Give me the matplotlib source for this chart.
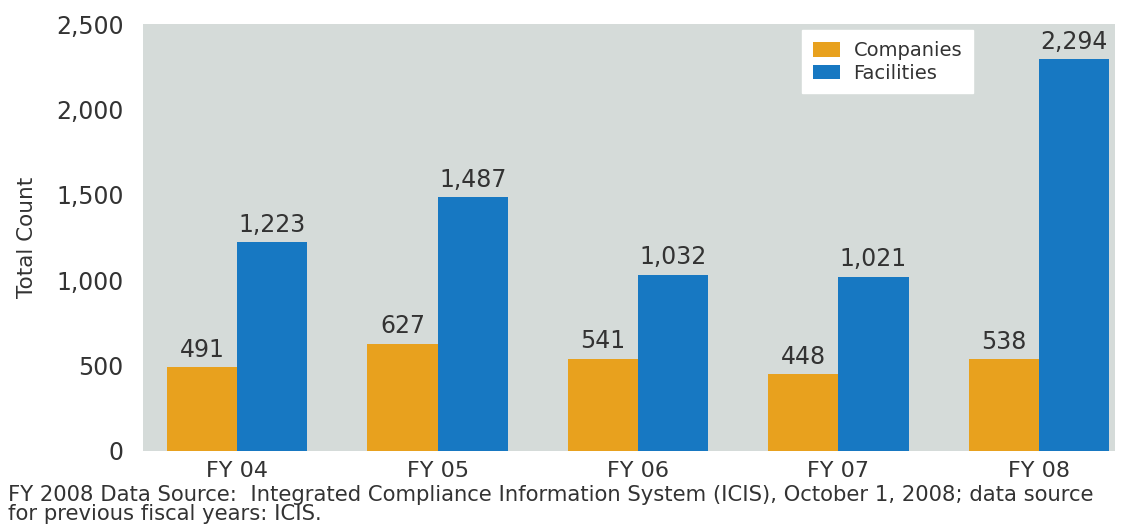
import numpy as np
import matplotlib
matplotlib.use('Agg')
import matplotlib.pyplot as plt

# data
years = ['FY 04', 'FY 05', 'FY 06', 'FY 07', 'FY 08']
companies = [491, 627, 541, 448, 538]
facilities = [1223, 1487, 1032, 1021, 2294]
yticks = [0, 500, 1000, 1500, 2000, 2500]
note = ('FY 2008 Data Source:  Integrated Compliance Information System (ICIS), '
        'October 1, 2008; data source\nfor previous fiscal years: ICIS.')

orange = '#E8A11E'
blue = '#1778C2'
bg = '#D5DBD9'
txt = '#333333'


def main():
    fig = plt.figure(figsize=(11.21, 5.25), dpi=100)
    ax = fig.add_axes([0.1276, 0.141, 0.867, 0.813])
    ax.set_facecolor(bg)

    x = np.arange(len(years))
    w = 0.35
    b1 = ax.bar(x - w / 2, companies, w, color=orange, label='Companies')
    b2 = ax.bar(x + w / 2, facilities, w, color=blue, label='Facilities')

    # value labels above each bar
    for bars in (b1, b2):
        for rect in bars:
            h = rect.get_height()
            ax.annotate(f'{int(h):,}', (rect.get_x() + rect.get_width() / 2, h),
                        xytext=(0, 4), textcoords='offset points',
                        ha='center', va='bottom', fontsize=17, color=txt)

    ax.set_xlim(-0.47, 4.38)
    ax.set_ylim(0, 2500)
    ax.set_yticks(yticks)
    ax.set_yticklabels([f'{v:,}' for v in yticks], fontsize=17, color=txt)
    ax.set_xticks(x)
    ax.set_xticklabels(years, fontsize=16, color=txt)
    ax.tick_params(axis='y', length=0, pad=14)
    ax.tick_params(axis='x', length=0, pad=7)
    for s in ax.spines.values():
        s.set_visible(False)

    ax.set_ylabel('Total Count', fontsize=15.5, color=txt, labelpad=14)

    leg = ax.legend(loc='upper left', bbox_to_anchor=(0.678, 0.986),
                    borderaxespad=0, fontsize=14, frameon=True, fancybox=False,
                    handlelength=1.4, handleheight=0.8, handletextpad=0.7,
                    borderpad=0.55, labelspacing=0.2, framealpha=1)
    leg.get_frame().set_facecolor('white')
    leg.get_frame().set_edgecolor('white')
    for t in leg.get_texts():
        t.set_color(txt)

    fig.text(0.007, 1 - 485 / 525, note, fontsize=15.2, color=txt, ha='left',
             va='top', linespacing=0.92)

    fig.savefig('out.png', dpi=100)


if __name__ == '__main__':
    main()
